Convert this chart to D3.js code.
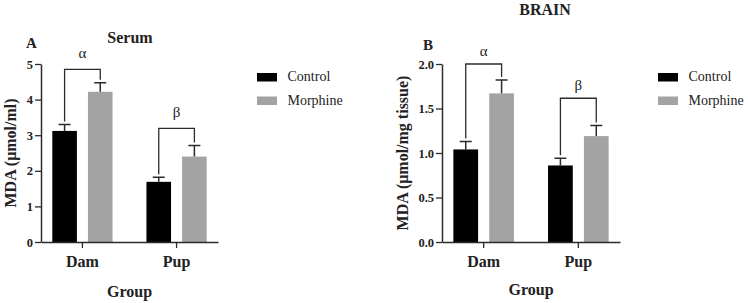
<!DOCTYPE html>
<html>
<head>
<meta charset="utf-8">
<script src="https://cdn.jsdelivr.net/npm/d3@7"></script>
<style>
  body { margin: 0; background: #fff; }
  svg { display: block; font-family: "Liberation Serif", "Times New Roman", serif; }
</style>
</head>
<body>
<div id="chart"></div>
<script>
// Datos
const groups = ["Dam", "Pup"];
const series = ["Control", "Morphine"];
const colors = ["#000000", "#a3a3a3"];

const serumControl = [3.12, 1.69];
const serumControlSE = [0.18, 0.13];
const serumMorphine = [4.22, 2.40];
const serumMorphineSE = [0.25, 0.31];
const serumTicks = [0, 1, 2, 3, 4, 5];
const serumMarks = ["α", "β"];
const serumMarkLevel = [4.85, 3.19];

const brainControl = [1.04, 0.86];
const brainControlSE = [0.09, 0.08];
const brainMorphine = [1.67, 1.19];
const brainMorphineSE = [0.15, 0.12];
const brainTicks = [0, 0.5, 1.0, 1.5, 2.0];
const brainMarks = ["α", "β"];
const brainMarkLevel = [2.0, 1.615];

const FONT = "Liberation Serif";

const SVG = d3.select("#chart")
    .append("svg")
    .attr("width", 748)
    .attr("height", 303)
    .attr("font-family", FONT);

const axisColor = "#2b2b2b";

function drawPanel(opt) {
    const g = SVG.append("g");

    const x0 = d3.scaleBand()
        .domain(groups)
        .range([opt.left, opt.right])
        .paddingInner(0.36)
        .paddingOuter(0.12);

    const x1 = d3.scaleBand()
        .domain(series)
        .range([0, x0.bandwidth()])
        .paddingInner(0.31);

    const y = d3.scaleLinear()
        .domain([0, opt.ymax])
        .range([242, 64]);

    // tabla de barras
    const rows = [];
    groups.forEach((grp, i) => {
        rows.push({ group: grp, serie: series[0], value: opt.control[i], se: opt.controlSE[i], color: colors[0] });
        rows.push({ group: grp, serie: series[1], value: opt.morphine[i], se: opt.morphineSE[i], color: colors[1] });
    });
    const cx = d => x0(d.group) + x1(d.serie) + x1.bandwidth() / 2;

    g.selectAll(".bar")
        .data(rows)
        .join("rect")
        .attr("class", "bar")
        .attr("x", d => x0(d.group) + x1(d.serie))
        .attr("width", x1.bandwidth())
        .attr("y", d => y(d.value))
        .attr("height", d => y(0) - y(d.value))
        .attr("fill", d => d.color);

    // barras de error (solo hacia arriba)
    g.selectAll(".err")
        .data(rows)
        .join("path")
        .attr("class", "err")
        .attr("d", d => {
            const t = y(d.value + d.se);
            return `M${cx(d)},${y(d.value)}V${t}M${cx(d) - 6},${t}H${cx(d) + 6}`;
        })
        .attr("stroke", axisColor)
        .attr("stroke-width", 1.5)
        .attr("fill", "none");

    // corchetes de significancia
    groups.forEach((grp, i) => {
        const a = rows[i * 2], b = rows[i * 2 + 1];
        const top = y(opt.markLevel[i]);
        const xa = cx(a), xb = cx(b);
        g.append("path")
            .attr("d", `M${xa},${y(a.value + a.se) - 3}V${top}H${xb}V${y(b.value + b.se) - 3}`)
            .attr("stroke", axisColor)
            .attr("stroke-width", 1.3)
            .attr("fill", "none");
        g.append("text")
            .attr("x", (xa + xb) / 2)
            .attr("y", top - opt.markGap)
            .attr("text-anchor", "middle")
            .attr("font-size", 15)
            .attr("fill", "#222")
            .text(opt.marks[i]);
    });

    // eje Y
    const yAxis = g.append("g")
        .attr("transform", `translate(${opt.left},0)`)
        .call(d3.axisLeft(y).tickValues(opt.ticks).tickFormat(opt.fmt).tickSize(6).tickSizeOuter(0));
    yAxis.select(".domain").attr("stroke", axisColor).attr("stroke-width", 1.5);
    yAxis.selectAll(".tick line").attr("stroke", axisColor).attr("stroke-width", 1.3);
    yAxis.selectAll(".tick text")
        .attr("font-family", FONT)
        .attr("font-weight", "bold")
        .attr("font-size", 12.5)
        .attr("fill", "#222")
        .attr("x", -8);

    // eje X
    const xAxis = g.append("g")
        .attr("transform", `translate(0,${y(0)})`)
        .call(d3.axisBottom(x0).tickSize(6).tickSizeOuter(0));
    xAxis.select(".domain").attr("stroke", axisColor).attr("stroke-width", 1.5);
    xAxis.selectAll(".tick line").attr("stroke", axisColor).attr("stroke-width", 1.3);
    xAxis.selectAll(".tick text")
        .attr("font-family", FONT)
        .attr("font-weight", "bold")
        .attr("font-size", 16)
        .attr("fill", "#222")
        .attr("y", 12)
        .attr("dy", "0.8em");

    // textos
    g.append("text")
        .attr("x", (opt.left + opt.right) / 2)
        .attr("y", opt.groupY)
        .attr("text-anchor", "middle")
        .attr("font-weight", "bold")
        .attr("font-size", 16)
        .attr("fill", "#222")
        .text("Group");

    g.append("text")
        .attr("transform", `translate(${opt.ylabX},153) rotate(-90)`)
        .attr("text-anchor", "middle")
        .attr("font-weight", "bold")
        .attr("font-size", 16)
        .attr("fill", "#222")
        .text(opt.ylabel);

    g.append("text")
        .attr("x", opt.titleX)
        .attr("y", opt.titleY)
        .attr("text-anchor", "middle")
        .attr("font-weight", "bold")
        .attr("font-size", 16)
        .attr("fill", "#222")
        .text(opt.title);

    g.append("text")
        .attr("x", opt.letterX)
        .attr("y", opt.letterY)
        .attr("font-weight", "bold")
        .attr("font-size", 15)
        .attr("fill", "#222")
        .text(opt.letter);

    // leyenda
    const leg = g.selectAll(".leg")
        .data(series)
        .join("g")
        .attr("class", "leg")
        .attr("transform", (d, i) => `translate(${opt.legX},${73 + i * 23.5})`);
    leg.append("rect")
        .attr("width", 20)
        .attr("height", 8.5)
        .attr("fill", (d, i) => colors[i]);
    leg.append("text")
        .attr("x", 30.5)
        .attr("y", 8)
        .attr("font-family", FONT)
        .attr("font-size", 14)
        .attr("fill", "#222")
        .text(d => d);
}

drawPanel({
    left: 41, right: 218, ymax: 5, ticks: serumTicks, fmt: d3.format("d"),
    control: serumControl, controlSE: serumControlSE,
    morphine: serumMorphine, morphineSE: serumMorphineSE,
    marks: serumMarks, markLevel: serumMarkLevel, markGap: 11,
    ylabel: "MDA (μmol/ml)", ylabX: 16, groupY: 297,
    title: "Serum", titleX: 130, titleY: 43,
    letter: "A", letterX: 26, letterY: 48,
    legX: 257
});

drawPanel({
    left: 442, right: 620, ymax: 2, ticks: brainTicks, fmt: d3.format(".1f"),
    control: brainControl, controlSE: brainControlSE,
    morphine: brainMorphine, morphineSE: brainMorphineSE,
    marks: brainMarks, markLevel: brainMarkLevel, markGap: 8,
    ylabel: "MDA (μmol/mg tissue)", ylabX: 408, groupY: 295,
    title: "BRAIN", titleX: 545, titleY: 15,
    letter: "B", letterX: 423, letterY: 50,
    legX: 658
});
</script>
</body>
</html>
